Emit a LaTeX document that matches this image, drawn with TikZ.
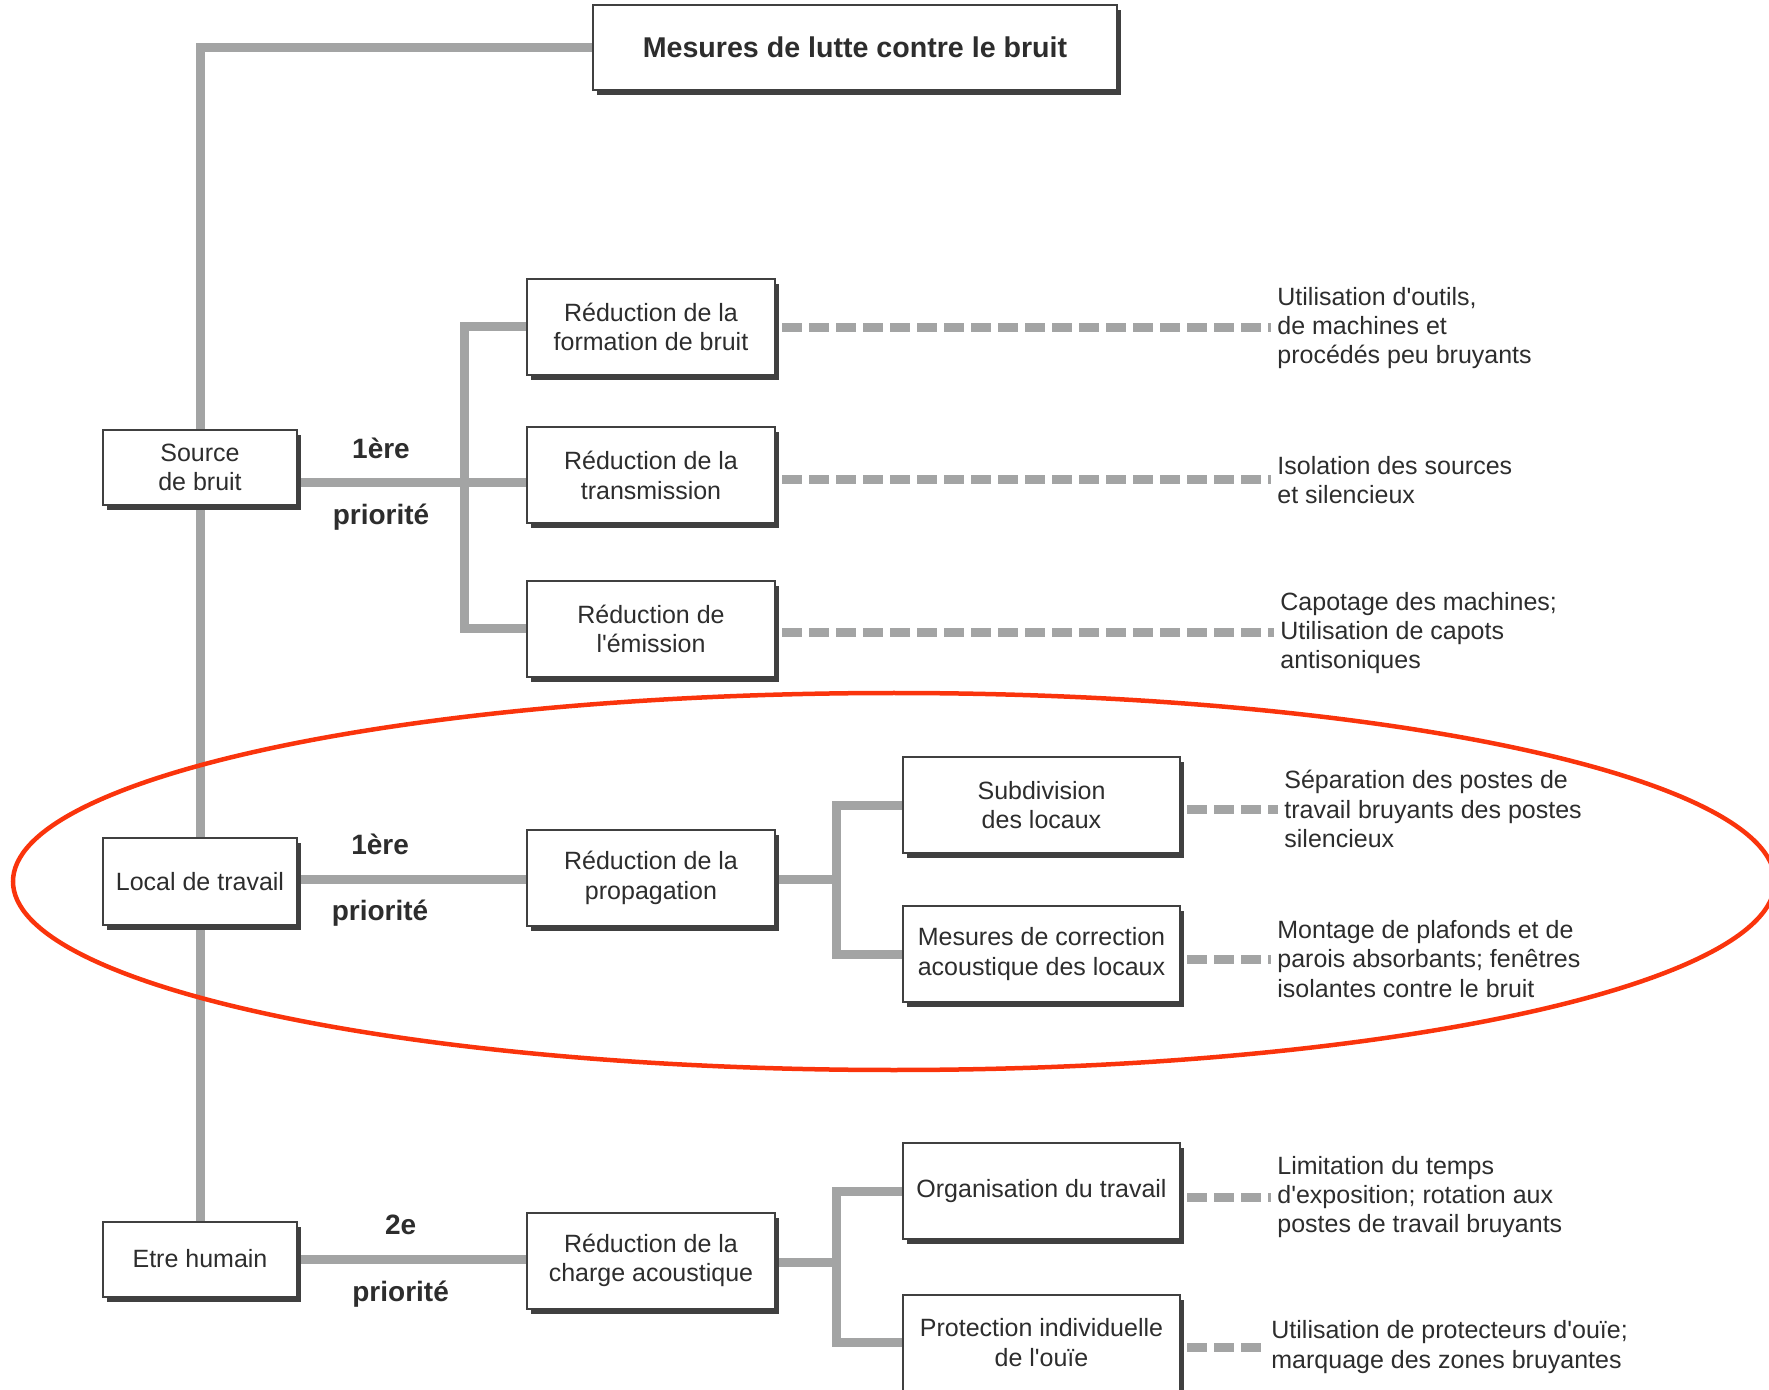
\documentclass[tikz,border=0pt]{standalone}
\usepackage{fontspec}
\setmainfont{Liberation Sans}
\usetikzlibrary{shadows,backgrounds}

\definecolor{linkgray}{RGB}{163,164,164}
\definecolor{boxshade}{RGB}{64,64,64}
\definecolor{ringred}{RGB}{250,52,12}
\definecolor{inkgray}{RGB}{45,45,45}

\begin{document}
\begin{tikzpicture}[
    x=0.5pt, y=-0.5pt,
    font=\fontsize{12.5}{14.7}\selectfont,
    box/.style={rectangle, draw=black!75, line width=1pt, fill=white, text=inkgray, align=center, inner sep=2pt, minimum width=124pt, minimum height=48pt, drop shadow={shadow xshift=2pt, shadow yshift=-2.5pt, fill=boxshade, opacity=1}},
    headbox/.style={minimum width=262pt, minimum height=42.5pt, font=\fontsize{14.3}{16}\selectfont\bfseries},
    leftbox/.style={minimum width=97pt, minimum height=37.5pt},
    widebox/.style={minimum width=138.5pt},
    notetext/.style={anchor=west, align=left, inner sep=3pt, text=inkgray},
    prio/.style={font=\fontsize{14}{16}\selectfont\bfseries, text=inkgray},
    link/.style={draw=linkgray, line width=4.5pt},
    dashlink/.style={draw=linkgray, line width=4.5pt, dash pattern=on 10pt off 3.5pt, shorten <=3pt},
    redring/.style={draw=ringred, line width=2.25pt}
]
    \useasboundingbox (0,0) rectangle (1769,1390);

    % Title and left column
    \node[box, headbox] (TITLE) at (855,47.5) {Mesures de lutte contre le bruit};
    \node[box, leftbox] (SOURCE) at (200,467.5) {Source\\de bruit};
    \node[box, leftbox, minimum height=43.5pt] (LOCAL) at (200,881.5) {Local de travail};
    \node[box, leftbox] (HUMAN) at (200,1259) {Etre humain};

    % Middle column
    \node[box] (FORM) at (651,327) {Réduction de la\\formation de bruit};
    \node[box] (TRANS) at (651,475.5) {Réduction de la\\transmission};
    \node[box] (EMIS) at (651,629) {Réduction de\\l\textquotesingle émission};
    \node[box] (PROP) at (651,878) {Réduction de la\\propagation};
    \node[box] (CHARGE) at (651,1260.5) {Réduction de la\\charge acoustique};

    % Right column
    \node[box, widebox] (SUBDIV) at (1041.5,805) {Subdivision\\des locaux};
    \node[box, widebox] (CORR) at (1041.5,954) {Mesures de correction\\acoustique des locaux};
    \node[box, widebox] (ORGA) at (1041.5,1191) {Organisation du travail};
    \node[box, widebox] (PROT) at (1041.5,1342.5) {Protection individuelle\\de l\textquotesingle ouïe};

    % Notes
    \node[notetext] (FORMnote) at (1271,328) {Utilisation d\textquotesingle outils,\\de machines et\\procédés peu bruyants};
    \node[notetext] (TRANSnote) at (1271,480) {Isolation des sources\\et silencieux};
    \node[notetext] (EMISnote) at (1274,633) {Capotage des machines;\\Utilisation de capots\\antisoniques};
    \node[notetext] (SUBDIVnote) at (1278,809) {Séparation des postes de\\travail bruyants des postes\\silencieux};
    \node[notetext] (CORRnote) at (1271,959) {Montage de plafonds et de\\parois absorbants; fenêtres\\isolantes contre le bruit};
    \node[notetext] (ORGAnote) at (1271,1197) {Limitation du temps\\d\textquotesingle exposition; rotation aux\\postes de travail bruyants};
    \node[notetext] (PROTnote) at (1265,1347) {Utilisation de protecteurs d\textquotesingle ouïe;\\marquage des zones bruyantes};

    \coordinate (FORK1) at (464,483);
    \coordinate (FORK2) at (836,879);
    \coordinate (FORK3) at (836,1262);

    % Tree connectors
    \begin{scope}[on background layer]
        \draw[link] (TITLE.west) -| (HUMAN.north);
        \draw[link] (SOURCE.east |- FORK1) -- node[prio, yshift=17.5pt] {1ère} node[prio, yshift=-17pt] {priorité} (FORK1) -- (TRANS.west |- FORK1);
        \draw[link] (FORM.west) -| (FORK1) |- (EMIS.west);
        \draw[link] (LOCAL.east |- FORK2) -- node[prio, pos=0.36, yshift=17.5pt] {1ère} node[prio, pos=0.36, yshift=-17pt] {priorité} (PROP.west |- FORK2);
        \draw[link] (PROP.east |- FORK2) -- (FORK2);
        \draw[link] (SUBDIV.west) -| (FORK2) |- (CORR.west);
        \draw[link] (HUMAN.east) -- node[prio, pos=0.45, yshift=17pt] {2e} node[prio, pos=0.45, yshift=-17.5pt] {priorité} (CHARGE.west |- HUMAN.east);
        \draw[link] (CHARGE.east |- FORK3) -- (FORK3);
        \draw[link] (ORGA.west) -| (FORK3) |- (PROT.west);
    \end{scope}

    % Dashed hints
    \draw[dashlink] (FORMnote.west -| FORM.east) -- (FORMnote.west);
    \draw[dashlink] (TRANSnote.west -| TRANS.east) -- (TRANSnote.west);
    \draw[dashlink] (EMISnote.west -| EMIS.east) -- (EMISnote.west);
    \draw[dashlink] (SUBDIVnote.west -| SUBDIV.east) -- (SUBDIVnote.west);
    \draw[dashlink] (CORRnote.west -| CORR.east) -- (CORRnote.west);
    \draw[dashlink] (ORGAnote.west -| ORGA.east) -- (ORGAnote.west);
    \draw[dashlink] (PROTnote.west -| PROT.east) -- (PROTnote.west);

    % Highlight
    \draw[redring] (894,881.5) ellipse [x radius=440.5pt, y radius=94.25pt];
\end{tikzpicture}
\end{document}
